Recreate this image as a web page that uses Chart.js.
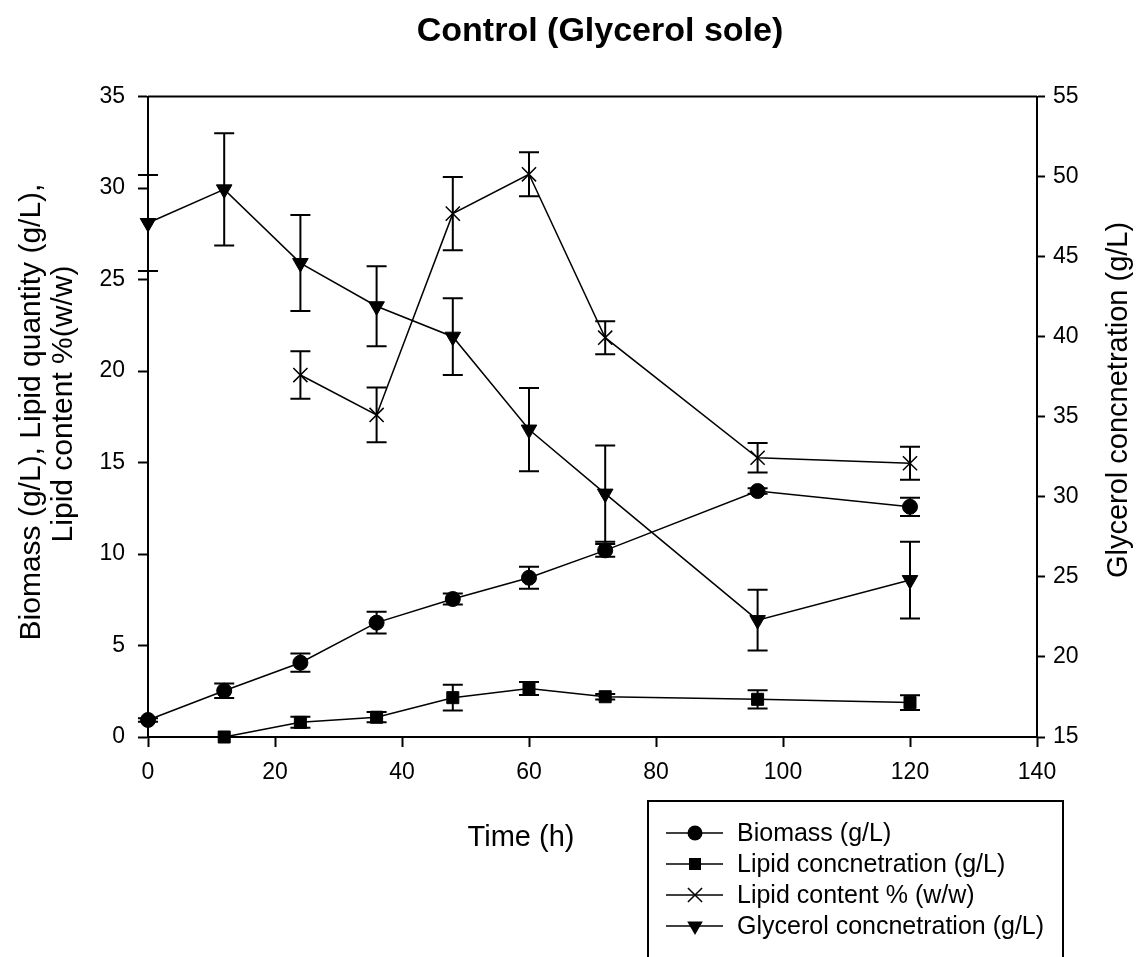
<!DOCTYPE html>
<html><head><meta charset="utf-8">
<script src="https://cdn.jsdelivr.net/npm/chart.js@4/dist/chart.umd.min.js"></script>
<style>html,body{margin:0;padding:0;background:#fff;}#wrap{width:1146px;height:957px;position:relative;}</style>
</head><body><div id="wrap"><canvas id="c" width="1146" height="957"></canvas></div>
<script>
// ---- data ----
const timeH = [0, 12, 24, 36, 48, 60, 72, 96, 120];
const biomass = [0.93, 2.53, 4.06, 6.25, 7.54, 8.7, 10.2, 13.44, 12.58];
const biomassErr = [0.1, 0.4, 0.5, 0.6, 0.3, 0.6, 0.35, 0.15, 0.5];
const lipidConc = [null, 0, 0.80, 1.08, 2.15, 2.65, 2.2, 2.06, 1.88];
const lipidConcErr = [null, 0, 0.3, 0.28, 0.7, 0.35, 0.15, 0.5, 0.4];
const lipidContent = [null, null, 19.78, 17.6, 28.6, 30.75, 21.82, 15.26, 14.96];
const lipidContentErr = [null, null, 1.3, 1.5, 2.0, 1.2, 0.9, 0.8, 0.9];
const glycerol = [47.1, 49.2, 44.6, 41.9, 40.0, 34.2, 30.2, 22.3, 24.8];
const glycerolErr = [3.0, 3.5, 3.0, 2.5, 2.4, 2.6, 3.0, 1.9, 2.4];
const seriesLabels = ['Biomass (g/L)', 'Lipid concnetration (g/L)', 'Lipid content % (w/w)', 'Glycerol concnetration (g/L)'];
const chartTitle = 'Control (Glycerol sole)';
const xTitle = 'Time (h)';
const yTitleLines = ['Biomass (g/L), Lipid quantity (g/L),', 'Lipid content %(w/w)'];
const y2Title = 'Glycerol concnetration (g/L)';

const FONT = "'Liberation Sans', Arial, Helvetica, sans-serif";

function pts(vals) {
  const out = [];
  timeH.forEach((t, i) => { if (vals[i] != null) out.push({x: t, y: vals[i]}); });
  return out;
}
function errs(vals, e) {
  const out = [];
  timeH.forEach((t, i) => { if (vals[i] != null) out.push(e[i]); });
  return out;
}

const styles = [
  {pointStyle: 'circle', radius: 7.5, rotation: 0, fill: true},
  {pointStyle: 'rect', radius: 8.5, rotation: 0, fill: true},
  {pointStyle: 'crossRot', radius: 10, rotation: 0, fill: false},
  {pointStyle: 'triangle', radius: 9, rotation: 180, fill: true}
];

function mkDs(i, vals, e, axis) {
  const s = styles[i];
  return {
    type: 'line', label: seriesLabels[i], data: pts(vals), errors: errs(vals, e),
    yAxisID: axis, borderColor: '#000', borderWidth: 1.5, fill: false, tension: 0,
    pointStyle: s.pointStyle, pointRadius: s.radius, pointHoverRadius: s.radius,
    pointRotation: s.rotation, pointBackgroundColor: '#000', pointBorderColor: '#000',
    pointBorderWidth: s.fill ? 1 : 1.5, clip: false
  };
}

const datasets = [
  mkDs(0, biomass, biomassErr, 'y'),
  mkDs(1, lipidConc, lipidConcErr, 'y'),
  mkDs(2, lipidContent, lipidContentErr, 'y'),
  mkDs(3, glycerol, glycerolErr, 'y2')
];

function drawMarker(ctx, st, x, y) {
  const r = st.radius;
  ctx.save();
  ctx.fillStyle = '#000'; ctx.strokeStyle = '#000'; ctx.lineWidth = 1.5;
  ctx.beginPath();
  if (st.pointStyle === 'circle') {
    ctx.arc(x, y, r, 0, Math.PI * 2); ctx.fill();
  } else if (st.pointStyle === 'rect') {
    const s = Math.SQRT1_2 * r; ctx.rect(x - s, y - s, 2 * s, 2 * s); ctx.fill();
  } else if (st.pointStyle === 'crossRot') {
    const o = Math.SQRT1_2 * r;
    ctx.moveTo(x - o, y - o); ctx.lineTo(x + o, y + o);
    ctx.moveTo(x - o, y + o); ctx.lineTo(x + o, y - o); ctx.stroke();
  } else if (st.pointStyle === 'triangle') {
    let rad = Math.PI;
    ctx.moveTo(x + Math.sin(rad) * r, y - Math.cos(rad) * r);
    rad += 2 * Math.PI / 3; ctx.lineTo(x + Math.sin(rad) * r, y - Math.cos(rad) * r);
    rad += 2 * Math.PI / 3; ctx.lineTo(x + Math.sin(rad) * r, y - Math.cos(rad) * r);
    ctx.closePath(); ctx.fill();
  }
  ctx.restore();
}

const errorBars = {
  id: 'errorBars',
  beforeDatasetsDraw(chart) {
    const ctx = chart.ctx, xs = chart.scales.x;
    ctx.save();
    ctx.strokeStyle = '#000'; ctx.lineWidth = 2;
    chart.data.datasets.forEach(ds => {
      const ys = chart.scales[ds.yAxisID];
      ds.data.forEach((p, i) => {
        const e = ds.errors[i];
        if (!e) return;
        const px = xs.getPixelForValue(p.x);
        const top = ys.getPixelForValue(p.y + e), bot = ys.getPixelForValue(p.y - e);
        ctx.beginPath();
        ctx.moveTo(px, top); ctx.lineTo(px, bot);
        ctx.moveTo(px - 10, top); ctx.lineTo(px + 10, top);
        ctx.moveTo(px - 10, bot); ctx.lineTo(px + 10, bot);
        ctx.stroke();
      });
    });
    ctx.restore();
  }
};

const decor = {
  id: 'decor',
  afterDraw(chart) {
    const ctx = chart.ctx, a = chart.chartArea;
    ctx.save();
    // top frame line
    ctx.strokeStyle = '#000'; ctx.lineWidth = 2;
    ctx.beginPath(); ctx.moveTo(a.left, a.top); ctx.lineTo(a.right, a.top); ctx.stroke();
    ctx.fillStyle = '#000';
    // title
    ctx.font = 'bold 34px ' + FONT; ctx.textAlign = 'center'; ctx.textBaseline = 'alphabetic';
    ctx.fillText(chartTitle, 600, 41);
    // x title
    ctx.font = '29px ' + FONT; ctx.textBaseline = 'middle';
    ctx.fillText(xTitle, 521, 838);
    // left title
    ctx.save(); ctx.translate(32, 412); ctx.rotate(-Math.PI / 2);
    ctx.font = '30px ' + FONT; ctx.fillText(yTitleLines[0], 0, 0); ctx.restore();
    ctx.save(); ctx.translate(64, 404); ctx.rotate(-Math.PI / 2);
    ctx.font = '30px ' + FONT; ctx.fillText(yTitleLines[1], 0, 0); ctx.restore();
    // right title
    ctx.save(); ctx.translate(1119, 400); ctx.rotate(-Math.PI / 2);
    ctx.font = '29px ' + FONT; ctx.fillText(y2Title, 0, 0); ctx.restore();
    // legend
    ctx.lineWidth = 2; ctx.strokeRect(648, 801, 415, 180);
    const rows = [833, 864, 895, 926];
    ctx.font = '25px ' + FONT; ctx.textAlign = 'left'; ctx.textBaseline = 'middle';
    chart.data.datasets.forEach((ds, i) => {
      const y = rows[i];
      ctx.lineWidth = 1.5; ctx.strokeStyle = '#000';
      ctx.beginPath(); ctx.moveTo(666, y); ctx.lineTo(723, y); ctx.stroke();
      drawMarker(ctx, styles[i], 695, y);
      ctx.fillStyle = '#000';
      ctx.fillText(ds.label, 737, y + 1);
    });
    ctx.restore();
  }
};

function axisCommon(extra) {
  return Object.assign({
    type: 'linear',
    ticks: {stepSize: 5, color: '#000', font: {family: FONT, size: 23}},
    grid: {drawOnChartArea: false, drawTicks: true, tickLength: 10, tickColor: '#000', tickWidth: 2},
    border: {display: true, color: '#000', width: 2}
  }, extra);
}

const scales = {
  x: axisCommon({position: 'bottom', min: 0, max: 140,
    ticks: {stepSize: 20, color: '#000', padding: 12, font: {family: FONT, size: 23}, maxRotation: 0},
    afterFit(s) { s.height = 220; }}),
  y: axisCommon({position: 'left', min: 0, max: 35,
    ticks: {stepSize: 5, color: '#000', padding: 13, font: {family: FONT, size: 23}},
    afterFit(s) { s.width = 148; }}),
  y2: axisCommon({position: 'right', min: 15, max: 55,
    ticks: {stepSize: 5, color: '#000', padding: 8, font: {family: FONT, size: 23}},
    grid: {drawOnChartArea: false, drawTicks: true, tickLength: 8, tickColor: '#000', tickWidth: 2},
    afterFit(s) { s.width = 109; }})
};

new Chart(document.getElementById('c'), {
  type: 'line',
  data: {datasets},
  options: {
    responsive: false, animation: false, devicePixelRatio: 1,
    layout: {padding: {top: 96.5, left: 0, right: 0, bottom: 0}},
    plugins: {legend: {display: false}, title: {display: false}, tooltip: {enabled: false}},
    scales
  },
  plugins: [errorBars, decor]
});
</script></body></html>
